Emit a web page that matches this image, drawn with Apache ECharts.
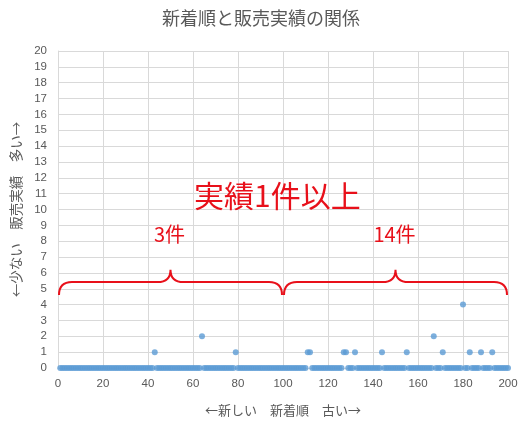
<!DOCTYPE html>
<html><head><meta charset="utf-8">
<script src="https://cdn.jsdelivr.net/npm/echarts@6/dist/echarts.min.js"></script>
<style>html,body{margin:0;padding:0;background:#fff}#c{width:532px;height:428px}</style>
</head><body><div id="c"></div>
<script>
const titleText = '新着順と販売実績の関係';
const xAxisName = '←新しい　新着順　古い→';
const yAxisName = '←少ない　販売実績　多い→';
// sales per item, item number 1..200 (newest first)
const sales = [
  0,0,0,0,0,0,0,0,0,0, 0,0,0,0,0,0,0,0,0,0,
  0,0,0,0,0,0,0,0,0,0, 0,0,0,0,0,0,0,0,0,0,
  0,0,1,0,0,0,0,0,0,0, 0,0,0,0,0,0,0,0,0,0,
  0,0,0,2,0,0,0,0,0,0, 0,0,0,0,0,0,0,0,1,0,
  0,0,0,0,0,0,0,0,0,0, 0,0,0,0,0,0,0,0,0,0,
  0,0,0,0,0,0,0,0,0,0, 1,1,0,0,0,0,0,0,0,0,
  0,0,0,0,0,0,1,1,0,0, 0,1,0,0,0,0,0,0,0,0,
  0,0,0,1,0,0,0,0,0,0, 0,0,0,0,1,0,0,0,0,0,
  0,0,0,0,0,0,2,0,0,0, 1,0,0,0,0,0,0,0,0,4,
  0,0,1,0,0,0,0,1,0,0, 0,0,1,0,0,0,0,0,0,0
];
const braceRanges = [[0, 100], [100, 200]];
const braceLabels = ['3件', '14件'];
const bigLabel = '実績1件以上';
const xTicks = {min: 0, max: 200, interval: 20};
const yTicks = {min: 0, max: 20, interval: 1};

const RED = '#e8101a';
const points = sales.map((v, i) => [i + 1, v]);
const braceData = braceRanges.map((r, i) => [r[0], r[1], braceLabels[i]]);

const chart = echarts.init(document.getElementById('c'), null, {renderer: 'canvas'});
const numFont = 'Liberation Sans';
const cjkFont = '"Noto Sans CJK JP", "Noto Sans", sans-serif';

chart.setOption({
  animation: false,
  backgroundColor: '#fff',
  title: {
    text: titleText, left: 157, top: 4,
    textStyle: {fontFamily: cjkFont, fontSize: 18, fontWeight: 'normal', color: '#595959'}
  },
  grid: {left: 58, right: 24, top: 51, bottom: 60, containLabel: false},
  xAxis: {
    type: 'value', min: xTicks.min, max: xTicks.max, interval: xTicks.interval,
    name: xAxisName, nameLocation: 'middle', nameGap: 36,
    nameTextStyle: {fontFamily: cjkFont, fontSize: 13, color: '#595959'},
    axisLine: {show: true, lineStyle: {color: '#d9d9d9'}},
    axisTick: {show: false},
    axisLabel: {fontFamily: numFont, fontSize: 11.5, color: '#595959', margin: 10},
    splitLine: {show: true, lineStyle: {color: '#d9d9d9', width: 1}}
  },
  yAxis: {
    type: 'value', min: yTicks.min, max: yTicks.max, interval: yTicks.interval,
    name: yAxisName, nameLocation: 'middle', nameGap: 35,
    nameTextStyle: {fontFamily: cjkFont, fontSize: 13.5, color: '#595959'},
    axisLine: {show: true, lineStyle: {color: '#d9d9d9'}},
    axisTick: {show: false},
    axisLabel: {fontFamily: numFont, fontSize: 11.5, color: '#595959', margin: 11},
    splitLine: {show: true, lineStyle: {color: '#d9d9d9', width: 1}}
  },
  series: [
    {
      type: 'scatter', data: points, symbol: 'circle', symbolSize: 6,
      itemStyle: {color: '#5b9bd5'}, z: 3
    },
    {
      type: 'custom', data: braceData, z: 4,
      renderItem: function (params, api) {
        const xa = api.coord([api.value(0), 0])[0] + 1;
        const xb = api.coord([api.value(1), 0])[0] - 1;
        const xm = (xa + xb) / 2;
        const yMid = api.coord([0, 5.42])[1];
        const yTip = api.coord([0, 6.2])[1];
        const yEnd = api.coord([0, 4.6])[1];
        const yLab = api.coord([0, 8.4])[1];
        const r = 13;
        const d = 'M' + xa + ',' + yEnd +
          ' Q' + xa + ',' + yMid + ' ' + (xa + r) + ',' + yMid +
          ' L' + (xm - r) + ',' + yMid +
          ' Q' + xm + ',' + yMid + ' ' + xm + ',' + yTip +
          ' Q' + xm + ',' + yMid + ' ' + (xm + r) + ',' + yMid +
          ' L' + (xb - r) + ',' + yMid +
          ' Q' + xb + ',' + yMid + ' ' + xb + ',' + yEnd;
        return {
          type: 'group',
          children: [
            {type: 'path', shape: {pathData: d},
             style: {fill: null, stroke: RED, lineWidth: 2}},
            {type: 'text', x: xm - 1, y: yLab,
             style: {text: api.value(2), fill: RED, fontSize: 20, fontFamily: cjkFont,
                     align: 'center', verticalAlign: 'middle'}}
          ]
        };
      }
    }
  ]
});

const bigPos = chart.convertToPixel({gridIndex: 0}, [97.5, 10.9]);
chart.setOption({
  graphic: [{
    type: 'text', x: bigPos[0], y: bigPos[1], z: 10,
    style: {text: bigLabel, fill: RED, fontSize: 30, fontFamily: cjkFont,
            align: 'center', verticalAlign: 'middle'}
  }]
});
</script>
</body></html>
